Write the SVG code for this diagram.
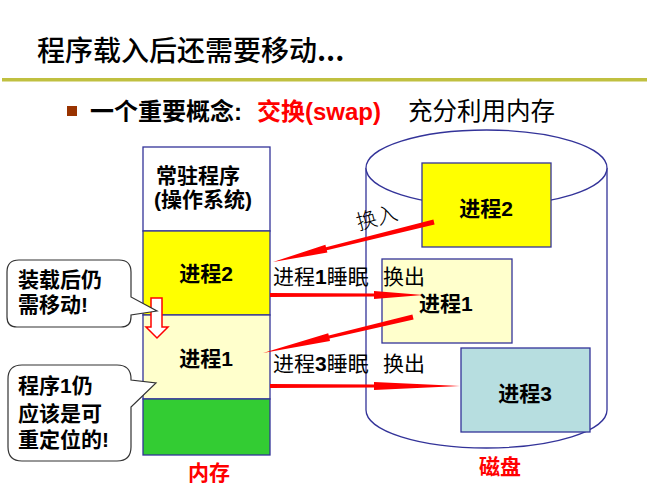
<svg xmlns="http://www.w3.org/2000/svg" width="647" height="488" viewBox="0 0 647 488">
<style>
text{font-family:"Liberation Sans","Noto Sans CJK SC",sans-serif;fill:#000}
.b{font-weight:bold}
.n{font-size:21px;font-weight:bold}
.lbl{font-size:21px}
.red{fill:#FF0000}
.box{stroke:#333399;stroke-width:1.3}
.call{fill:#fff;stroke:#333;stroke-width:1.2}
.arr{fill:#FF0000;stroke:none}
</style>
<rect width="647" height="488" fill="#fff"/>
<g id="title">
<text x="37" y="61" style="font-size:28px;font-weight:500;font-family:'Noto Sans CJK SC','Liberation Serif',serif">程序载入后还需要移动<tspan style="font-weight:bold">...</tspan></text>
<rect x="2" y="78" width="645" height="3.5" fill="#C0C040"/>
</g>
<g id="bullet">
<rect x="67" y="106" width="10" height="10" fill="#993300"/>
<text x="90" y="120" class="b" style="font-size:24px">一个重要概念: </text>
<text x="257" y="120" class="b red" style="font-size:24px">交换(swap)</text>
<text x="408" y="120" style="font-size:24.5px">充分利用内存</text>
</g>
<g id="memory">
<rect class="box" x="143" y="147" width="127" height="84" fill="#fff"/>
<rect class="box" x="143" y="231" width="127" height="84" fill="#FFFF00"/>
<rect class="box" x="143" y="315" width="127" height="84" fill="#FFFFCC"/>
<rect class="box" x="143" y="399" width="127" height="56" fill="#33CC33"/>
<text x="156" y="183" class="n">常驻程序</text>
<text x="154" y="207" class="n">(操作系统)</text>
<text x="206" y="281" class="n" text-anchor="middle">进程2</text>
<text x="206" y="366" class="n" text-anchor="middle">进程1</text>
<text x="209" y="480" class="n red" text-anchor="middle">内存</text>
</g>
<g id="move-arrow">
<polygon points="151,298 162,298 162,327 168,327 157,338 146,327 151,327" fill="#fff" stroke="#FF0000" stroke-width="1.5"/>
</g>
<g id="callout1">
<path class="call" d="M19,260 H119 Q131,260 131,272 V297 L157,311 L131,315 V317 Q131,327 121,327 H17 Q7,327 7,317 V272 Q7,260 19,260 Z"/>
<text x="18" y="287" class="n">装载后仍</text>
<text x="18" y="312" class="n">需移动!</text>
</g>
<g id="callout2">
<path class="call" d="M22,365 H117 Q131,365 131,379 V380 L156,383 L131,407 V447 Q131,461 117,461 H22 Q8,461 8,447 V379 Q8,365 22,365 Z"/>
<text x="18" y="393" class="n">程序1仍</text>
<text x="18" y="421" class="n">应该是可</text>
<text x="18" y="447" class="n">重定位的!</text>
</g>
<g id="disk">
<path d="M366,168 V410 A120.5,38 0 0 0 607,410 V168" fill="#fff" stroke="#333399" stroke-width="1.3"/>
<ellipse cx="486.5" cy="168" rx="120.5" ry="38" fill="#fff" stroke="#333399" stroke-width="1.3"/>
<text x="500" y="474" class="n red" text-anchor="middle">磁盘</text>
</g>
<g id="disk-p2">
<rect class="box" x="422" y="163" width="129" height="84" fill="#FFFF00"/>
<text x="486" y="216" class="n" text-anchor="middle">进程2</text>
</g>
<g id="disk-p1">
<rect class="box" x="382" y="259" width="130" height="84" fill="#FFFFCC"/>
<text x="419" y="311" class="n">进程1</text>
</g>
<g id="disk-p3">
<rect class="box" x="461" y="348" width="129" height="84" fill="#B7DEE0"/>
<text x="525" y="401" class="n" text-anchor="middle">进程3</text>
</g>
<g id="connectors">
<polygon class="arr" points="433.4,219.6 326,247.2 325.4,244.8 273,262 327.4,252.6 326.8,250.2 434.6,224.4"/>
<polygon class="arr" points="270,293 374,293.5 374,291 423,295 374,299 374,296.5 270,297"/>
<polygon class="arr" points="412.4,314.6 328.8,335.6 328.2,333.2 263,353 330,341 329.5,338.6 413.6,319.4"/>
<polygon class="arr" points="270,384 374,384.5 374,382 460,386 374,390 374,387.5 270,388"/>
<text transform="translate(377,218) rotate(-15)" y="7" text-anchor="middle" style="font-size:21px;font-family:'Noto Sans CJK SC',serif;font-weight:300">换入</text>
<text x="273" y="284" class="lbl">进程<tspan class="b">1</tspan>睡眠<tspan x="383">换出</tspan></text>
<text x="273" y="371" class="lbl">进程<tspan class="b">3</tspan>睡眠<tspan x="383">换出</tspan></text>
</g>
</svg>
